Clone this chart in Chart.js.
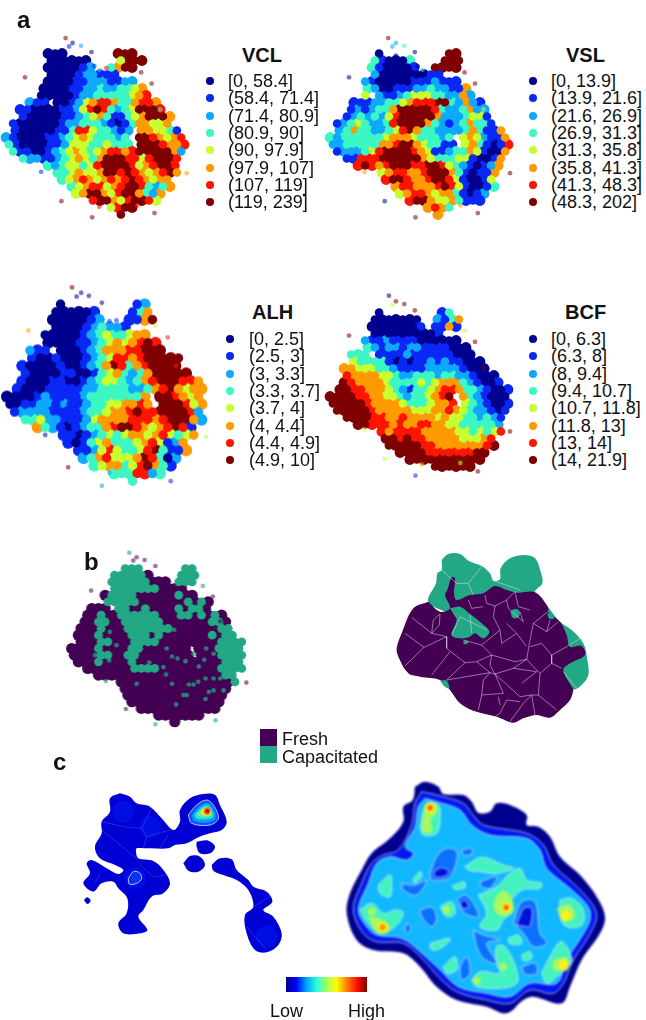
<!DOCTYPE html>
<html>
<head>
<meta charset="utf-8">
<script src="https://cdn.jsdelivr.net/npm/chart.js@4"></script>
<style>
html, body { margin: 0; padding: 0; background: #fff; }
body { position: relative; width: 646px; height: 1020px; overflow: hidden; font-family: "Liberation Sans", Arial, sans-serif; color: #111; }
canvas { position: absolute; filter: blur(0.6px); }
.txt { position: absolute; white-space: nowrap; line-height: 1; }
.dot { position: absolute; width: 8px; height: 8px; border-radius: 50%; }
.box { position: absolute; width: 17px; height: 17px; }
</style>
</head>
<body>
<script>
// bin colours, shared by the four panels in a
const binColors = ['#00008f', '#0a28f5', '#0fa8ff', '#3cf7c4', '#c8ff2e', '#ff9a00', '#ff1400', '#7f0000'];
const binAlpha = ['rgba(0,0,143,.55)', 'rgba(10,40,245,.55)', 'rgba(15,168,255,.55)', 'rgba(60,247,196,.55)', 'rgba(200,255,46,.55)', 'rgba(255,154,0,.55)', 'rgba(255,20,0,.55)', 'rgba(127,0,0,.55)'];

const vclBins = ['[0, 58.4]', '(58.4, 71.4]', '(71.4, 80.9]', '(80.9, 90]', '(90, 97.9]', '(97.9, 107]', '(107, 119]', '(119, 239]'];
const vslBins = ['[0, 13.9]', '(13.9, 21.6]', '(21.6, 26.9]', '(26.9, 31.3]', '(31.3, 35.8]', '(35.8, 41.3]', '(41.3, 48.3]', '(48.3, 202]'];
const alhBins = ['[0, 2.5]', '(2.5, 3]', '(3, 3.3]', '(3.3, 3.7]', '(3.7, 4]', '(4, 4.4]', '(4.4, 4.9]', '(4.9, 10]'];
const bcfBins = ['[0, 6.3]', '(6.3, 8]', '(8, 9.4]', '(9.4, 10.7]', '(10.7, 11.8]', '(11.8, 13]', '(13, 14]', '(14, 21.9]'];

// one character per map cell, the digit is the bin
const vclRows = [
'......000.......777',
'......000000....4777',
'......0000012..3577',
'......0000122111',
'......0000112221122',
'.....000011223223345',
'.....0000012233333456',
'...211.001245665335665',
'..110000112467632347776',
'..1000001123453113457775',
'.10000001223332101355445',
'.10000011366433212.554431',
'210000112345433323.7765456',
'310000112444334333.7776556',
'.3110012345434566567777752',
'..32211234543577766467776',
'......3234434677776456776',
'.......334544577676545675',
'........3456545656765455',
'.........345664567763235',
'..........4577546775325',
'............6775467764',
'...............4677',
'................7'];

const vslRows = [
'.......0.........77',
'......310003....777',
'......3100001..7777',
'......2000000011',
'.....21000001112111',
'.....320011122322115',
'.....4.21123444332252',
'...1112233456667732521',
'...12123357777763223522',
'..123232467777752223441',
'.12343223677775321235331',
'.235332234675332222353115',
'323333334555433323.4542115',
'223333355677543311.4531016',
'.1222346777765411233541005',
'..11666777777543334410015',
'....676567776677643210125',
'.......45665567775310115',
'........6776556776410014',
'.........566555676410013',
'..........4566545531012',
'...........67754453111',
'..............5653',
'...............5'];

const alhRows = [
'.......0.........12',
'......000001....135',
'......0000012...1157',
'......0000123221',
'.....00000123433455',
'.....000011234545676',
'...211.00012355566777',
'...10010001234665677777',
'..100001001235763567777',
'..1000011001345323577777',
'..100011001234432356777665',
'.1000111112233332235675455',
'0000121111233333335.776545',
'0011221211233445565.777645',
'.1222211112334556766777762',
'..334221112455556665677752',
'....532101233567765456761',
'.......110123434554564345',
'........1013453334564125',
'.........112464334673115',
'..........2356444576302',
'...........34553467531',
'..............3336623',
'................3'];

const bcfRows = [
'.......0........13',
'......0000000..2135',
'......00000001.1151',
'......0000000001',
'.....21121111000000',
'.....321221221111000',
'...333.11112111111000',
'...4333310101121211000',
'..554443321111222221000',
'..6555544322333233221000',
'..76555543333434555321001',
'.7766555432133456653321001',
'777766554432334567.5321000',
'777776555543334556.4321001',
'.7777765555544455654322101',
'..77776655655554544332321',
'....776665655665544333332',
'.......656666555554434346',
'........7767665555544456',
'........7777766555555567',
'..........7777666666677',
'...........77777777777',
'...............777777'];

// stray cells around the maps: column, row, bin
const vclStray = [[8.8,-1.7,7],[9.8,-1,0],[9.3,-.5,1],[11,-.6,2],[12.5,.3,0],[12.9,2.3,1],[13.6,2.8,3],[14.6,2.6,6],[3,3.9,7],[19.6,3.2,7],[21.1,4.8,7],[26.1,17.6,5],[5.3,17.4,1],[8.2,21.6,7],[13.6,22.4,6],[12.6,23.9,7],[21.5,23.3,7],[19,22.2,6],[22.3,8.5,3]];
const vslStray = [[8.6,-1.7,7],[9.7,-1,2],[9.2,-.5,2],[10.9,-.6,3],[9.7,.8,0],[12.4,.3,0],[12.8,2.3,0],[13.5,2.8,3],[3,3.9,0],[19.5,3.2,7],[21,4.8,7],[22.2,8.5,4],[26,17.6,7],[5.2,17.4,5],[8.1,21.6,0],[12.5,23.9,7],[21.4,23.3,7],[18.9,22.2,5]];
const alhStray = [[8.8,-1.7,7],[10,-1,0],[9.4,-.5,0],[11,-.6,0],[12.7,.3,0],[3.1,3.9,5],[13.7,2.7,1],[14.6,2.6,1],[19.7,3.3,4],[21.3,4.8,6],[22.4,8.5,6],[26.3,17.7,4],[5.3,17.5,0],[8.3,21.7,7],[12.7,24.1,2],[21.7,23.5,1],[13.7,22.4,2],[19,22.3,2]];
const bcfStray = [[8.7,-1.9,0],[9.7,-1.1,7],[9.2,-.6,4],[10.9,-.7,7],[12.4,.2,7],[12.8,2.1,1],[13.5,2.6,1],[3,3.8,7],[19.5,3.1,4],[21,4.7,7],[22.2,8.4,7],[26,17.5,7],[5.2,17.2,4],[8.1,21.4,4],[12.5,23.8,1],[21.4,23.2,7],[18.9,22,4],[13.4,22.2,5]];

// panel b, points coloured by condition: 0 fresh, 1 capacitated
const condRows = [
'........111......11',
'......111110....111',
'......111111000.111',
'......11111110000',
'.....01111000000100',
'.....1111100000001010',
'...000.11001000010110',
'..001001111110001101010',
'..0011001111110000000110',
'.00010001111111000000011',
'.000100001110100000001011',
'.0001100011110000000001111',
'000010000110000000.0001111',
'000011001100000000.0001111',
'.0001000010000000000000111',
'..000000011110000000001111',
'....000000000000000000011',
'.......000000000000000001',
'........0000000000000000',
'........000000000000000',
'.........00000000000000',
'..........000000000000',
'.............0000000',
'...............0'];
const condDots = [[14.5,12.5],[14,15.3],[14.4,16.4],[15.3,13.7],[16.1,14],[17.3,14.4],[18.5,13.3],[19.3,15.2],[20.1,14.2],[20.4,12.5],[21.5,13.3],[18.5,17.9],[17.8,17.9],[19.2,17.5],[20.3,17],[21.5,17],[22.5,17],[23,18.8],[21.5,18.8],[20.8,19],[17,19.5],[17.5,19.5],[20.3,20.1],[15.9,20.9],[10,17.8],[15.6,9.7],[15.3,17.8],[11.9,14.6],[5.9,14.3],[4.5,13.8],[3.8,13.5],[16.3,7.7],[7,12],[6,10]];
const condStray = [[8.9,-1.9,1],[10,-1.2,0],[9.5,-.7,0],[11.2,-.8,0],[12.8,.1,0],[13,2.1,0],[13.8,2.5,0],[14.8,2.4,0],[3.2,3.8,0],[19.9,3.1,1],[21.4,4.7,0],[22.5,8.4,0],[26.4,17.6,0],[5.4,17.4,1],[8.4,21.6,0],[12.8,23.9,1],[21.8,23.3,1]];
const condNames = ['Fresh', 'Capacitated'];
const condColors = ['#440154', '#22a884'];

// clusters coloured by majority condition, outlines
const clusterCapacitated = [[275,60],[295,42],[330,42],[355,62],[395,78],[420,100],[430,122],[450,118],[452,85],[480,55],[525,45],[555,55],[572,95],[577,130],[555,157],[590,195],[605,215],[630,245],[665,270],[700,310],[712,360],[715,405],[695,435],[670,448],[620,420],[500,300],[300,220],[235,185],[258,130],[262,100],[275,90]];
const clusterFresh = [[235,185],[270,215],[300,205],[285,165],[292,150],[305,112],[315,115],[312,160],[320,180],[360,165],[400,160],[435,138],[470,150],[500,158],[555,157],[590,195],[600,222],[630,245],[650,285],[660,320],[695,318],[705,345],[660,370],[640,390],[665,440],[670,448],[660,480],[630,510],[600,533],[560,525],[520,535],[490,548],[440,530],[370,512],[330,490],[300,450],[270,420],[210,410],[175,400],[145,350],[140,325],[155,280],[190,205]];
const clusterIslands = [
[[300,205],[330,200],[360,222],[395,250],[418,275],[400,295],[375,280],[360,290],[330,295],[305,285],[320,240],[310,222]],
[[481,215],[490,208],[503,208],[510,220],[503,233],[488,233]],
[[340,303],[352,303],[355,310],[342,312]],
[[270,422],[290,422],[298,445],[285,440]],
[[592,222],[602,218],[612,235],[598,236]]];
const clusterEdges = [
[[165,280],[222,322]],[[185,232],[245,280],[290,290]],[[222,322],[165,378]],[[222,322],[290,290]],
[[290,290],[290,325],[345,368],[380,365],[425,345],[395,315],[340,300]],[[245,280],[250,240],[270,222],[268,255],[245,280]],
[[300,335],[245,405]],[[345,368],[290,420]],[[290,420],[420,398]],
[[380,365],[420,398],[435,402],[490,385],[530,358],[550,380],[570,400]],[[425,345],[420,375],[435,402]],[[425,345],[495,365],[530,358],[540,300],[550,250],[600,210]],
[[395,315],[450,270],[430,230],[435,198],[410,190],[405,165]],[[450,270],[455,310],[500,280],[530,320]],[[470,250],[500,280]],
[[470,180],[435,198]],[[470,180],[495,155],[505,200],[540,210]],[[470,180],[475,205],[520,245],[510,215]],[[400,200],[365,205],[355,180]],
[[550,250],[590,275],[625,245]],[[590,275],[600,240]],[[540,320],[575,310],[605,345],[605,370],[635,385]],[[605,345],[650,320],[690,295]],
[[605,370],[570,400],[565,465]],[[420,398],[400,420],[395,465],[385,510]],[[435,402],[460,460],[395,465]],[[435,402],[510,470],[545,465]],
[[490,385],[560,395]],[[515,430],[560,395]],[[565,465],[545,465],[555,525]],[[545,465],[520,490],[480,545]],[[510,485],[470,480],[450,520],[435,530]],
[[445,470],[450,495]],[[565,465],[620,510]],[[640,395],[680,445]],[[275,90],[320,130],[355,130],[395,80]],[[355,130],[370,165]],[[430,122],[510,150]],
[[305,285],[330,230],[410,270]],[[360,225],[365,280]]];

// panel c, density of capacitated cells
const densLeftBody = [
[[240,130],[270,140],[290,160],[330,170],[365,205],[400,240],[420,215],[420,180],[450,145],[490,132],[525,135],[540,165],[560,215],[545,240],[510,250],[475,262],[440,280],[405,285],[385,295],[330,295],[290,295],[288,305],[295,325],[340,333],[370,360],[390,400],[370,430],[335,440],[310,480],[295,500],[322,540],[300,550],[250,550],[235,520],[260,490],[262,445],[235,415],[220,395],[185,400],[160,425],[130,400],[150,370],[140,340],[155,330],[200,355],[235,372],[250,360],[225,345],[180,325],[165,290],[185,250],[185,215],[210,185],[210,145]],
[[470,275],[505,272],[525,290],[510,310],[480,310],[470,290]],
[[430,340],[450,318],[480,320],[495,345],[475,365],[445,362]],
[[515,345],[540,325],[575,328],[590,360],[625,390],[640,410],[680,425],[697,455],[670,480],[700,500],[725,550],[715,585],[680,607],[645,600],[620,550],[615,495],[640,470],[625,420],[590,390],[550,375],[520,362]],
[[132,450],[142,442],[152,452],[142,462]]];
const densLeftLevels = [
[[445,195],[470,165],[500,150],[520,165],[535,205],[510,225],[455,220]],
[[455,195],[475,172],[500,158],[517,170],[527,205],[505,217],[462,213]],
[[462,195],[480,176],[500,165],[513,175],[520,200],[500,208],[470,206]],
[[470,193],[485,178],[500,170],[510,178],[515,195],[498,202],[478,200]],
[[480,188],[490,176],[502,172],[510,180],[512,192],[497,197]],
[[490,184],[495,174],[506,172],[512,182],[506,194],[495,193]],
[[495,183],[501,177],[507,180],[507,187],[500,189]],
[[265,385],[280,365],[298,368],[305,385],[290,400],[268,402]]];
const densLeftLevelColors = ['#1a4dff', '#00a0ff', '#20e0e0', '#70f090', '#f0f020', '#ff7000', '#a02030', '#0a30f0'];
const densLeftGlow = [[250,185],[285,385],[680,560],[330,230]];
const densLeftEdges = [[[185,215],[230,225],[265,232],[305,235],[335,175]],[[305,235],[320,260],[390,240]],[[185,240],[290,325]],[[320,260],[310,295]],[[360,295],[385,255]],[[620,530],[680,600]],[[640,470],[690,440]],[[180,370],[165,400]],[[300,345],[340,380],[385,375]]];

const densRightRings = [
[[225,50],[255,35],[295,50],[310,72],[370,75],[395,95],[415,128],[450,125],[470,100],[510,105],[560,135],[560,165],[595,170],[630,200],[660,260],[720,315],[770,380],[795,440],[780,490],[725,570],[690,650],[665,700],[580,680],[550,690],[500,730],[440,710],[350,690],[290,650],[240,590],[190,550],[100,540],[50,510],[20,430],[30,370],[65,300],[95,250],[150,205],[190,155],[190,110],[218,90]],
[[245,65],[290,75],[370,100],[395,130],[430,165],[560,190],[610,225],[640,285],[700,340],[755,400],[770,440],[745,500],[700,570],[670,640],[640,670],[570,660],[510,700],[440,690],[350,665],[300,625],[250,570],[190,520],[110,515],[70,490],[40,420],[65,340],[95,280],[130,255],[175,240],[215,165],[225,100]],
[[255,85],[290,95],[360,120],[395,165],[450,195],[560,205],[600,240],[620,295],[690,355],[745,410],[750,450],[725,500],[680,570],[650,640],[570,640],[510,680],[440,670],[355,650],[300,600],[240,545],[185,505],[110,495],[80,470],[55,420],[85,340],[110,280],[150,260],[200,270],[220,250],[195,230],[225,170],[235,110]]];
const densRightRingColors = ['#00008f', '#0018f0', '#12b8ff'];
const densRightHigh = [
[[240,170],[260,100],[295,105],[300,150],[290,190],[250,195]],
[[60,420],[95,400],[130,430],[170,420],[190,430],[165,470],[120,490],[85,460]],
[[115,345],[150,315],[155,345],[150,380],[120,370]],
[[660,390],[695,385],[730,420],[725,465],[680,470],[660,440]],
[[415,375],[470,350],[510,310],[540,295],[560,330],[605,340],[600,355],[545,360],[510,400],[520,420],[490,450],[470,480],[420,470],[440,430]],
[[375,290],[425,262],[490,285],[520,295],[470,310],[420,305],[385,300]],
[[605,610],[625,570],[660,515],[680,530],[695,575],[650,620],[620,640]],
[[395,630],[420,605],[480,610],[470,580],[470,530],[495,530],[530,600],[530,640],[480,655],[410,650]],
[[310,590],[345,560],[350,600],[320,610]],
[[270,520],[330,505],[310,530],[275,540]],
[[505,505],[535,495],[545,520],[510,522]],
[[300,410],[335,395],[345,430],[320,440]],
[[545,555],[570,545],[575,565],[550,572]],
[[338,348],[372,335],[375,352],[345,358]],
[[218,330],[240,305],[245,320],[225,338]]];
const densRightWarm = [
[[465,385],[490,362],[515,385],[518,428],[480,437],[462,415]],
[[85,440],[105,442],[130,450],[150,470],[140,490],[110,488]],
[[245,170],[255,120],[285,100],[292,125],[272,150],[278,182],[250,188]],
[[640,570],[680,562],[682,600],[640,598]],
[[650,415],[690,405],[705,440],[670,455]]];
const densRightLow = [
[[270,310],[290,260],[320,235],[350,245],[345,290],[325,325],[275,330]],
[[520,460],[545,395],[585,395],[600,490],[620,520],[580,530],[550,490]],
[[350,390],[375,375],[400,400],[415,440],[375,430]],
[[240,420],[275,412],[290,445],[275,470],[245,440]],
[[400,480],[430,495],[480,510],[440,520],[470,580],[430,565],[410,530]],
[[420,335],[470,320],[450,355],[425,350]],
[[545,590],[585,580],[590,610],[555,612]],
[[185,340],[225,345],[260,330],[230,375],[190,360]],
[[365,240],[395,235],[395,252],[370,255]],
[[200,460],[212,470],[205,490],[195,480]],
[[360,590],[380,560],[390,610],[365,630]]];
const densRightLowest = [
[[282,305],[305,293],[327,305],[310,320],[285,320]],
[[530,465],[552,415],[575,415],[570,470],[560,470]],
[[360,400],[375,390],[385,410],[370,415]]];
// x, y, level: 0 green-yellow, 1 yellow, 2 orange, 3 red
const densRightPeaks = [[498,412,1],[498,412,2],[500,413,3],[128,472,1],[128,472,2],[270,113,1],[270,113,2],[271,114,3],[670,585,1],[320,420,0],[258,165,0],[678,437,1],[410,632,0],[95,425,0],[490,590,0]];
const peakColors = ['#a8f860', '#ffef20', '#ff9000', '#f03010'];

// colour key
const keyColors = ['#00008f','#0000ff','#00a0ff','#20ffe0','#a0ff60','#ffff00','#ff8000','#ff1000','#7f0000'];
const keyTicks = ['Low', 'High'];

function newCanvas(left, top, width, height) {
    const c = document.createElement('canvas');
    c.width = width;
    c.height = height;
    c.style.left = left + 'px';
    c.style.top = top + 'px';
    c.style.width = width + 'px';
    c.style.height = height + 'px';
    document.body.appendChild(c);
    return c.getContext('2d');
}

function hiddenAxis(min, max, reverse) {
    return { type: 'linear', display: false, min: min, max: max, reverse: !!reverse };
}

function drawMap(ctx, datasets, xMax, yMin, yMax, xMin) {
    new Chart(ctx, {
        type: 'scatter',
        // the library paints the last dataset first, the lists here go bottom to top
        data: { datasets: datasets.slice().reverse() },
        options: {
            animation: false,
            responsive: false,
            layout: { padding: 0, autoPadding: false },
            plugins: { legend: { display: false }, tooltip: { enabled: false } },
            scales: { x: hiddenAxis(xMin || 0, xMax), y: hiddenAxis(yMin, yMax, true) }
        }
    });
}

// cells of a row grid with the given digit
function cellsOf(rows, digit) {
    const pts = [];
    rows.forEach((row, j) => {
        for (let i = 0; i < row.length; i++) {
            if (row[i] === digit) pts.push({ x: i + 0.5 + (j % 2 ? 0.2 : -0.2), y: j + 0.5 });
        }
    });
    return pts;
}

// all cells of a grid, every other one in a separate pass so the blobs mix
function mottled(rows, pass, radius) {
    const pts = [], colors = [];
    rows.forEach((row, j) => {
        for (let i = 0; i < row.length; i++) {
            if (row[i] !== '.' && (i + j) % 2 === pass) {
                pts.push({ x: i + 0.5 + (j % 2 ? 0.2 : -0.2), y: j + 0.5 });
                colors.push(binColors[+row[i]]);
            }
        }
    });
    return { data: pts, pointRadius: radius, pointBorderWidth: 0, pointBackgroundColor: colors };
}

function strayPoints(stray, colors, radius) {
    return {
        data: stray.map(s => ({ x: s[0], y: s[1] })),
        pointRadius: radius,
        pointBorderWidth: 0,
        pointBackgroundColor: stray.map(s => colors[s[2]])
    };
}

function shape(points, color, line) {
    return {
        showLine: true,
        data: points.concat([points[0]]),
        fill: 'shape',
        backgroundColor: color,
        borderColor: line || color,
        borderWidth: line ? 1 : 0,
        tension: 0.35,
        pointRadius: 0
    };
}

function edge(points, color, width) {
    return { showLine: true, data: points, fill: false, borderColor: color, borderWidth: width, pointRadius: 0 };
}

function text(str, left, top, size, bold) {
    const d = document.createElement('div');
    d.className = 'txt';
    d.textContent = str;
    d.style.left = left + 'px';
    d.style.top = top + 'px';
    d.style.fontSize = size + 'px';
    if (bold) d.style.fontWeight = 'bold';
    document.body.appendChild(d);
    return d;
}

function binPanel(rows, stray, ox, oy, cell) {
    const ctx = newCanvas(ox - cell, oy - 5 * cell, 29 * cell, 32 * cell);
    drawMap(ctx, [
        mottled(rows, 0, cell * 0.78),
        mottled(rows, 1, cell * 0.62),
        strayPoints(stray, binAlpha, 2.4)
    ], 28, -5, 27, -1);
}

function binLegend(title, bins, dotX, textX, titleX, titleY, firstY) {
    text(title, titleX, titleY - 10, 20, true);
    bins.forEach((b, i) => {
        const y = firstY + i * 17.35;
        const d = document.createElement('div');
        d.className = 'dot';
        d.style.left = (dotX - 4) + 'px';
        d.style.top = (y - 4) + 'px';
        d.style.background = binColors[i];
        document.body.appendChild(d);
        text(b, textX, y - 9, 18);
    });
}

function drawPanelA() {
    binPanel(vclRows, vclStray, 4, 50, 7);
    binPanel(vslRows, vslStray, 328, 50, 7);
    binPanel(alhRows, alhStray, 4.67, 300.67, 7.67);
    binPanel(bcfRows, bcfStray, 328, 309.33, 7);
    binLegend('VCL', vclBins, 209.5, 228, 242, 55, 81);
    binLegend('VSL', vslBins, 532.5, 551, 566, 55, 81);
    binLegend('ALH', alhBins, 230, 249, 252, 312, 339);
    binLegend('BCF', bcfBins, 532.5, 551, 565, 312, 339);
}

function drawPanelB() {
    const cell = 6.67;
    const left = newCanvas(70 - cell, 565 - 5 * cell, 29 * cell, 32 * cell);
    drawMap(left, [
        { data: cellsOf(condRows, '0'), pointRadius: 5.6, pointBorderWidth: 0, pointBackgroundColor: condColors[0] },
        { data: cellsOf(condRows, '1'), pointRadius: 4.4, pointBorderWidth: 0, pointBackgroundColor: condColors[1] },
        { data: condDots, pointRadius: 2.3, pointBorderWidth: 0, pointBackgroundColor: 'rgba(34,168,132,.75)' },
        strayPoints(condStray, ['rgba(68,1,84,.55)', 'rgba(34,168,132,.6)'], 2.3)
    ], 28, -5, 27, -1);

    const right = newCanvas(350, 540, 296, 230);
    const sets = [shape(clusterCapacitated, condColors[1]), shape(clusterFresh, condColors[0])];
    clusterIslands.forEach(p => sets.push(shape(p, condColors[1])));
    clusterEdges.forEach(p => sets.push(edge(p, 'rgba(235,225,240,.5)', 1)));
    drawMap(right, sets, 888, 0, 690);

    condNames.forEach((name, i) => {
        const b = document.createElement('div');
        b.className = 'box';
        b.style.left = '260px';
        b.style.top = (729 + i * 17) + 'px';
        b.style.background = condColors[i];
        document.body.appendChild(b);
        text(name, 282, 730 + i * 18, 18);
    });
}

function drawPanelC() {
    const left = newCanvas(40, 750, 300, 270);
    const leftSets = densLeftBody.map(p => shape(p, '#0000d4'));
    leftSets.push({ data: densLeftGlow, pointRadius: 11, pointBorderWidth: 0, pointBackgroundColor: 'rgba(0,40,255,.35)' });
    densLeftEdges.forEach(p => leftSets.push(edge(p, 'rgba(120,130,255,.3)', 1)));
    densLeftLevels.forEach((p, i) => leftSets.push(shape(p, densLeftLevelColors[i], i === 0 || i === 7 ? 'rgba(220,230,255,.8)' : null)));
    drawMap(left, leftSets, 900, 0, 810);

    const right = newCanvas(340, 770, 306, 250);
    right.canvas.style.filter = 'blur(1.1px)';
    const pale = 'rgba(225,240,255,.75)';
    const sets = densRightRings.map((p, i) => shape(p, densRightRingColors[i], i ? pale : null));
    densRightHigh.forEach(p => sets.push(shape(p, '#44f2c0', pale)));
    densRightWarm.forEach(p => sets.push(shape(p, '#a8f860')));
    densRightLow.forEach(p => sets.push(shape(p, '#0a70ff', pale)));
    densRightLowest.forEach(p => sets.push(shape(p, '#0010d8', pale)));
    peakColors.forEach((color, lvl) => {
        sets.push({
            data: densRightPeaks.filter(p => p[2] === lvl).map(p => ({ x: p[0], y: p[1] })),
            pointRadius: [4, 5, 3, 1.5][lvl],
            pointBorderWidth: 0,
            pointBackgroundColor: color
        });
    });
    drawMap(right, sets, 918, 0, 750);

    // colour key as one bar with a gradient
    const key = newCanvas(286, 977, 81, 15);
    const grad = key.createLinearGradient(0, 0, 81, 0);
    keyColors.forEach((c, i) => grad.addColorStop(i / (keyColors.length - 1), c));
    new Chart(key, {
        type: 'bar',
        data: {
            labels: [''],
            datasets: [{ data: [1], backgroundColor: grad, barPercentage: 1, categoryPercentage: 1 }]
        },
        options: {
            indexAxis: 'y',
            animation: false,
            responsive: false,
            plugins: { legend: { display: false }, tooltip: { enabled: false } },
            scales: {
                x: { display: false, min: 0, max: 1 },
                y: { display: false }
            }
        }
    });
    text(keyTicks[0], 270, 1002, 18);
    text(keyTicks[1], 348, 1002, 18);
}

window.onload = function () {
    drawPanelA();
    drawPanelB();
    drawPanelC();
    text('a', 17, 8, 24, true);
    text('b', 84, 550, 24, true);
    text('c', 53, 750, 24, true);
};
</script>
</body>
</html>
